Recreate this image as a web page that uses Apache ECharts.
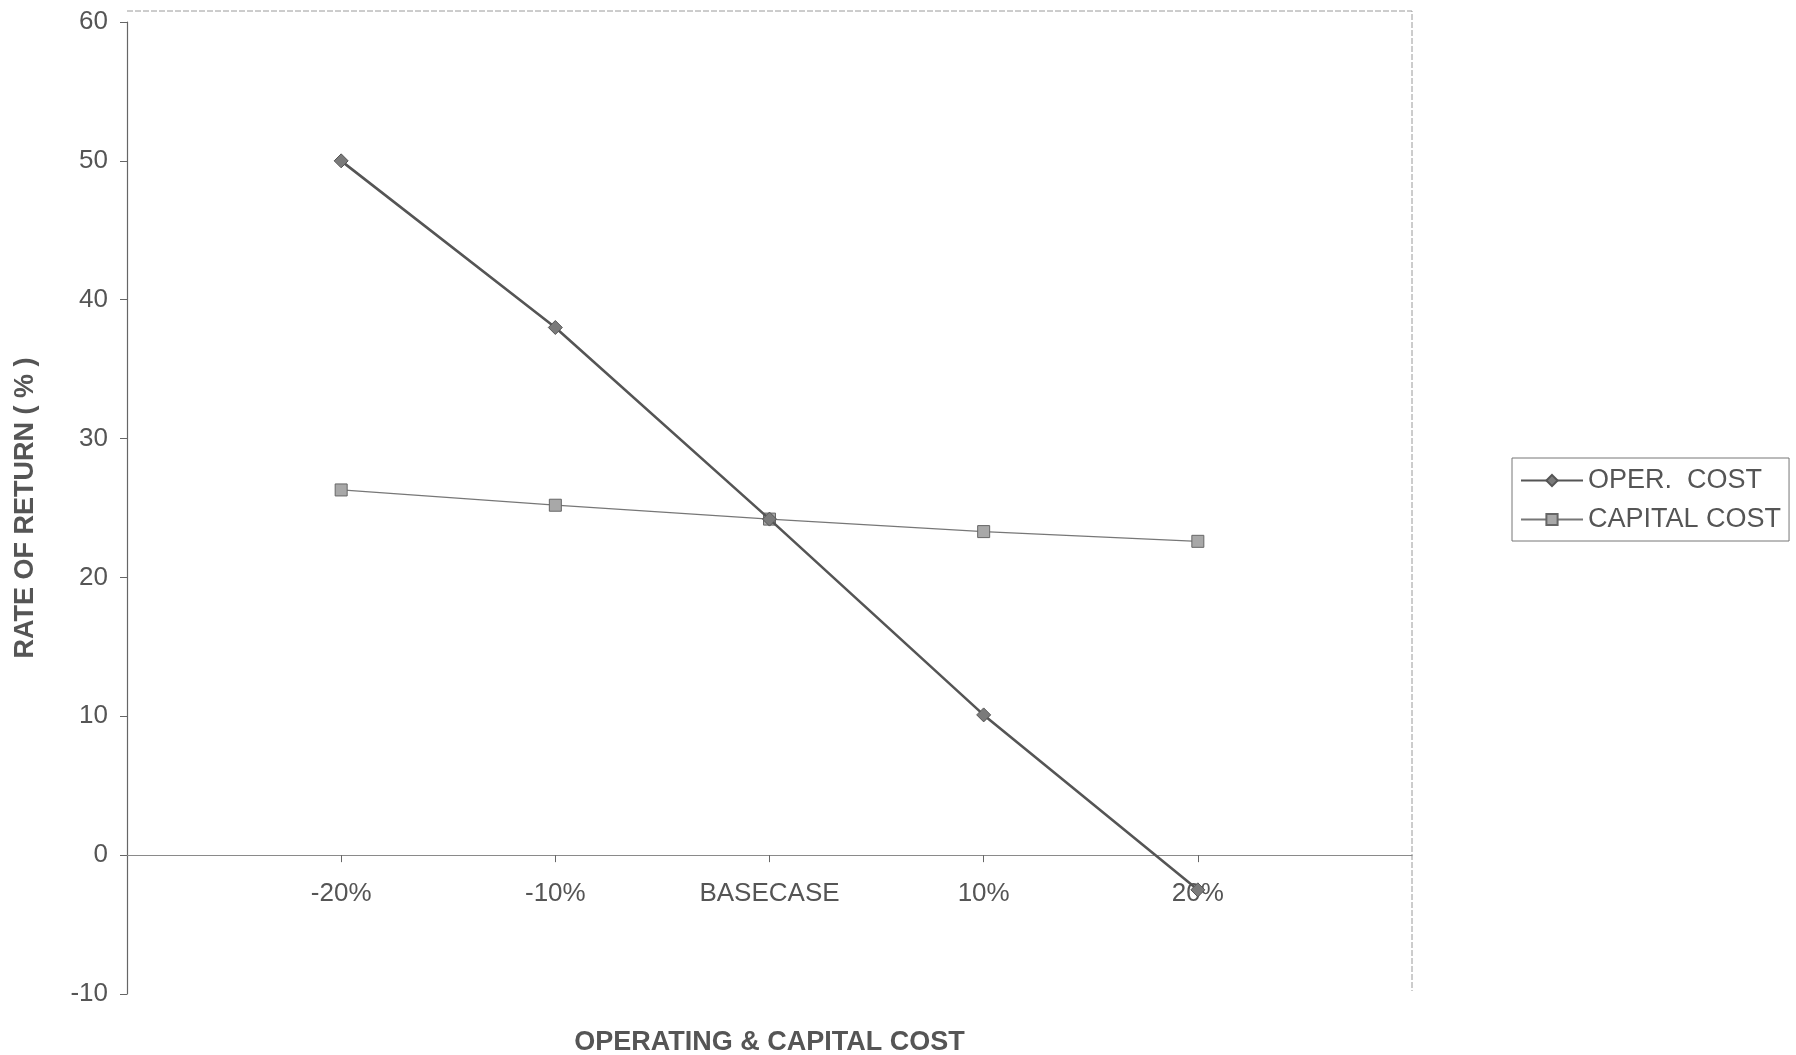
<!DOCTYPE html>
<html>
<head>
<meta charset="utf-8">
<script src="https://cdn.jsdelivr.net/npm/echarts@6/dist/echarts.min.js"></script>
<style>
  html, body { margin: 0; padding: 0; background: #ffffff; }
  #chart { width: 1796px; height: 1055px; }
</style>
</head>
<body>
<div id="chart"></div>
<script>
// Sensitivity of rate of return to operating and capital cost changes.
// Empty end categories pad the axis so the cases sit inside the frame.
const categories = ['', '-20%', '-10%', 'BASECASE', '10%', '20%', ''];
const operCost    = [null, 50.0, 38.0, 24.2, 10.1, -2.5, null];
const capitalCost = [null, 26.3, 25.2, 24.2, 23.3, 22.6, null];
const yTicks = { min: -10, max: 60, step: 10 };

const FONT = '"Liberation Sans", Arial, sans-serif';
const TEXT = '#555';

const chart = echarts.init(document.getElementById('chart'), null, { renderer: 'canvas' });

chart.setOption({
  backgroundColor: '#ffffff',
  animation: false,
  textStyle: { fontFamily: FONT, color: TEXT },
  grid: {
    left: 127, right: 384, top: 22, bottom: 61,
    containLabel: false,
    outerBoundsMode: 'none'
  },
  // light plot-area frame along the top and right
  graphic: [
    {
      type: 'polyline',
      silent: true,
      shape: { points: [[127, 11], [1412, 11], [1412, 991]] },
      style: { stroke: '#9a9a9a', lineWidth: 1, lineDash: [6, 2], fill: null }
    }
  ],
  legend: {
    orient: 'vertical',
    left: 1512,
    top: 458,
    padding: [9, 8, 8, 8],
    itemGap: 12,
    itemWidth: 62,
    itemHeight: 14,
    borderColor: '#777',
    borderWidth: 1,
    textStyle: { fontFamily: FONT, fontSize: 27, color: TEXT },
    data: [
      { name: 'OPER.  COST' },
      { name: 'CAPITAL COST' }
    ]
  },
  xAxis: {
    type: 'category',
    data: categories,
    boundaryGap: false,
    axisLine: { onZero: false, lineStyle: { color: '#8a8a8a', width: 1.2 } },
    axisTick: {
      show: true,
      length: 7,
      lineStyle: { color: '#666' },
      interval: (i, v) => v !== ''
    },
    axisLabel: {
      margin: 26,
      fontSize: 26,
      color: TEXT,
      fontFamily: FONT,
      interval: 0
    },
    splitLine: { show: false },
    name: 'OPERATING & CAPITAL COST',
    nameLocation: 'middle',
    nameGap: 174,
    nameTextStyle: { fontFamily: FONT, fontSize: 27, fontWeight: 'bold', color: TEXT }
  },
  yAxis: {
    type: 'value',
    min: yTicks.min,
    max: yTicks.max,
    interval: yTicks.step,
    axisLine: { show: true, lineStyle: { color: '#666', width: 1.2 } },
    axisTick: { show: true, length: 7, lineStyle: { color: '#666' } },
    axisLabel: { margin: 19, fontSize: 26, color: TEXT, fontFamily: FONT },
    splitLine: { show: false },
    name: 'RATE OF RETURN ( % )',
    nameLocation: 'middle',
    nameRotate: 90,
    nameGap: 88,
    nameTextStyle: { fontFamily: FONT, fontSize: 27, fontWeight: 'bold', color: TEXT }
  },
  series: [
    {
      name: 'OPER.  COST',
      type: 'line',
      data: operCost,
      symbol: 'diamond',
      symbolSize: 14,
      showAllSymbol: true,
      lineStyle: { color: '#555', width: 2.6 },
      itemStyle: { color: '#7a7a7a', borderColor: '#555', borderWidth: 1 },
      z: 3
    },
    {
      name: 'CAPITAL COST',
      type: 'line',
      data: capitalCost,
      symbol: 'rect',
      symbolSize: 12,
      showAllSymbol: true,
      lineStyle: { color: '#777', width: 1.3 },
      itemStyle: { color: '#a8a8a8', borderColor: '#666', borderWidth: 1 },
      z: 2
    }
  ]
});

// Lift the category axis (line, ticks and labels) up to the zero line.
const zeroY = chart.convertToPixel({ yAxisIndex: 0 }, 0);
const bottomY = chart.convertToPixel({ yAxisIndex: 0 }, yTicks.min);
chart.setOption({ xAxis: { offset: zeroY - bottomY } });
</script>
</body>
</html>
